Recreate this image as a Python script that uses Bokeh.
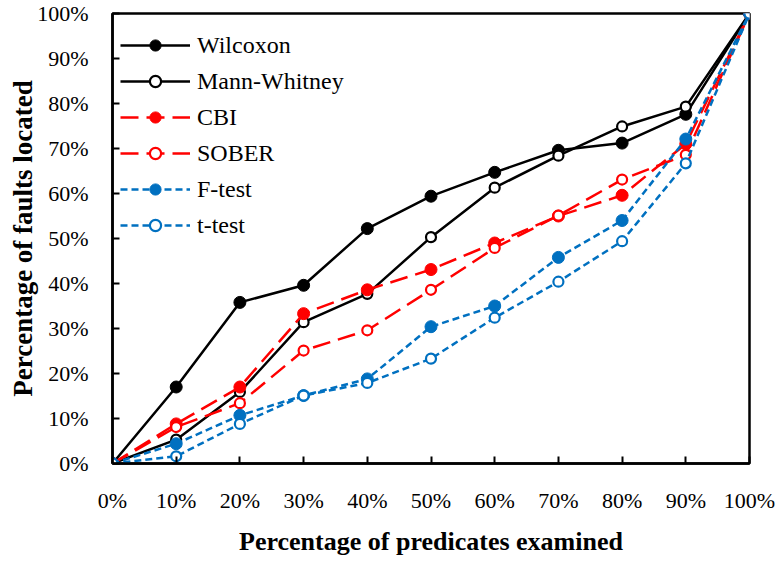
from bokeh.plotting import figure
from bokeh.models import FixedTicker, PrintfTickFormatter, Legend, LegendItem, Range1d
from bokeh.embed import file_html
from bokeh.resources import INLINE

x_vals = [0, 10, 20, 30, 40, 50, 60, 70, 80, 90, 100]
wilcoxon = [0, 17.0, 35.8, 39.6, 52.2, 59.4, 64.7, 69.6, 71.2, 77.6, 100]
mann_whitney = [0, 5.3, 15.9, 31.4, 37.7, 50.3, 61.3, 68.4, 74.9, 79.3, 100]
cbi = [0, 8.8, 17.0, 33.3, 38.6, 43.1, 49.0, 55.0, 59.6, 71.0, 100]
sober = [0, 8.1, 13.4, 25.1, 29.6, 38.6, 47.9, 55.1, 63.1, 68.6, 100]
f_test = [0, 4.4, 10.7, 15.1, 18.8, 30.4, 35.0, 45.8, 54.0, 72.1, 100]
t_test = [0, 1.6, 8.8, 15.1, 17.9, 23.3, 32.4, 40.4, 49.4, 66.7, 100]
tick_values = [0, 10, 20, 30, 40, 50, 60, 70, 80, 90, 100]

FONT = "Liberation Serif, serif"
RED = "#FF0000"
BLUE = "#0070C0"

p = figure(width=775, height=558, output_backend="svg", toolbar_location=None,
           x_range=Range1d(0, 100), y_range=Range1d(0, 100),
           min_border_left=112, min_border_right=26, min_border_top=13, min_border_bottom=95)
p.xgrid.visible = False
p.ygrid.visible = False
p.outline_line_color = "black"
p.outline_line_width = 2.5
p.outline_line_alpha = 1.0

for ax in (p.xaxis[0], p.yaxis[0]):
    ax.ticker = FixedTicker(ticks=tick_values)
    ax.formatter = PrintfTickFormatter(format="%d%%")
    ax.major_label_text_font = FONT
    ax.major_label_text_font_size = "22px"
    ax.major_label_text_color = "black"
    ax.axis_line_color = "black"
    ax.axis_line_width = 2.5
    ax.major_tick_line_color = "black"
    ax.major_tick_line_width = 2
    ax.major_tick_in = 7
    ax.major_tick_out = 0
    ax.minor_tick_line_color = None
    ax.axis_label_text_font = FONT
    ax.axis_label_text_font_style = "bold"
    ax.axis_label_text_color = "black"

p.xaxis[0].axis_label = "Percentage of predicates examined"
p.xaxis[0].axis_label_text_font_size = "26px"
p.xaxis[0].major_label_standoff = 24
p.xaxis[0].axis_label_standoff = 11

p.yaxis[0].axis_label = "Percentage of faults located"
p.yaxis[0].axis_label_text_font_size = "27px"
p.yaxis[0].major_label_standoff = 24
p.yaxis[0].axis_label_standoff = -4

series = [
    ("Wilcoxon", wilcoxon, "black", "solid", True),
    ("Mann-Whitney", mann_whitney, "black", "solid", False),
    ("CBI", cbi, RED, "18 8", True),
    ("SOBER", sober, RED, "18 8", False),
    ("F-test", f_test, BLUE, "7 4", True),
    ("t-test", t_test, BLUE, "7 4", False),
]

items = []
for name, ys, color, dash, filled in series:
    ln = p.line(x_vals, ys, line_color=color, line_width=2.5, line_dash=dash)
    if filled:
        sc = p.scatter(x_vals, ys, marker="circle", size=12, fill_color=color,
                       line_color=color, line_width=1)
    else:
        sc = p.scatter(x_vals, ys, marker="circle", size=10, fill_color="white",
                       line_color=color, line_width=2.2)
    items.append(LegendItem(label=name, renderers=[ln, sc]))

legend = Legend(items=items, location=(8, 224), orientation="vertical")
legend.label_text_font = FONT
legend.label_text_font_size = "24px"
legend.label_text_color = "black"
legend.glyph_width = 70
legend.glyph_height = 28
legend.label_height = 28
legend.spacing = 8
legend.padding = 0
legend.margin = 0
legend.label_standoff = 7
legend.background_fill_alpha = 0
legend.border_line_alpha = 0
p.add_layout(legend, "center")

open("out.html", "w").write(file_html(p, INLINE))
